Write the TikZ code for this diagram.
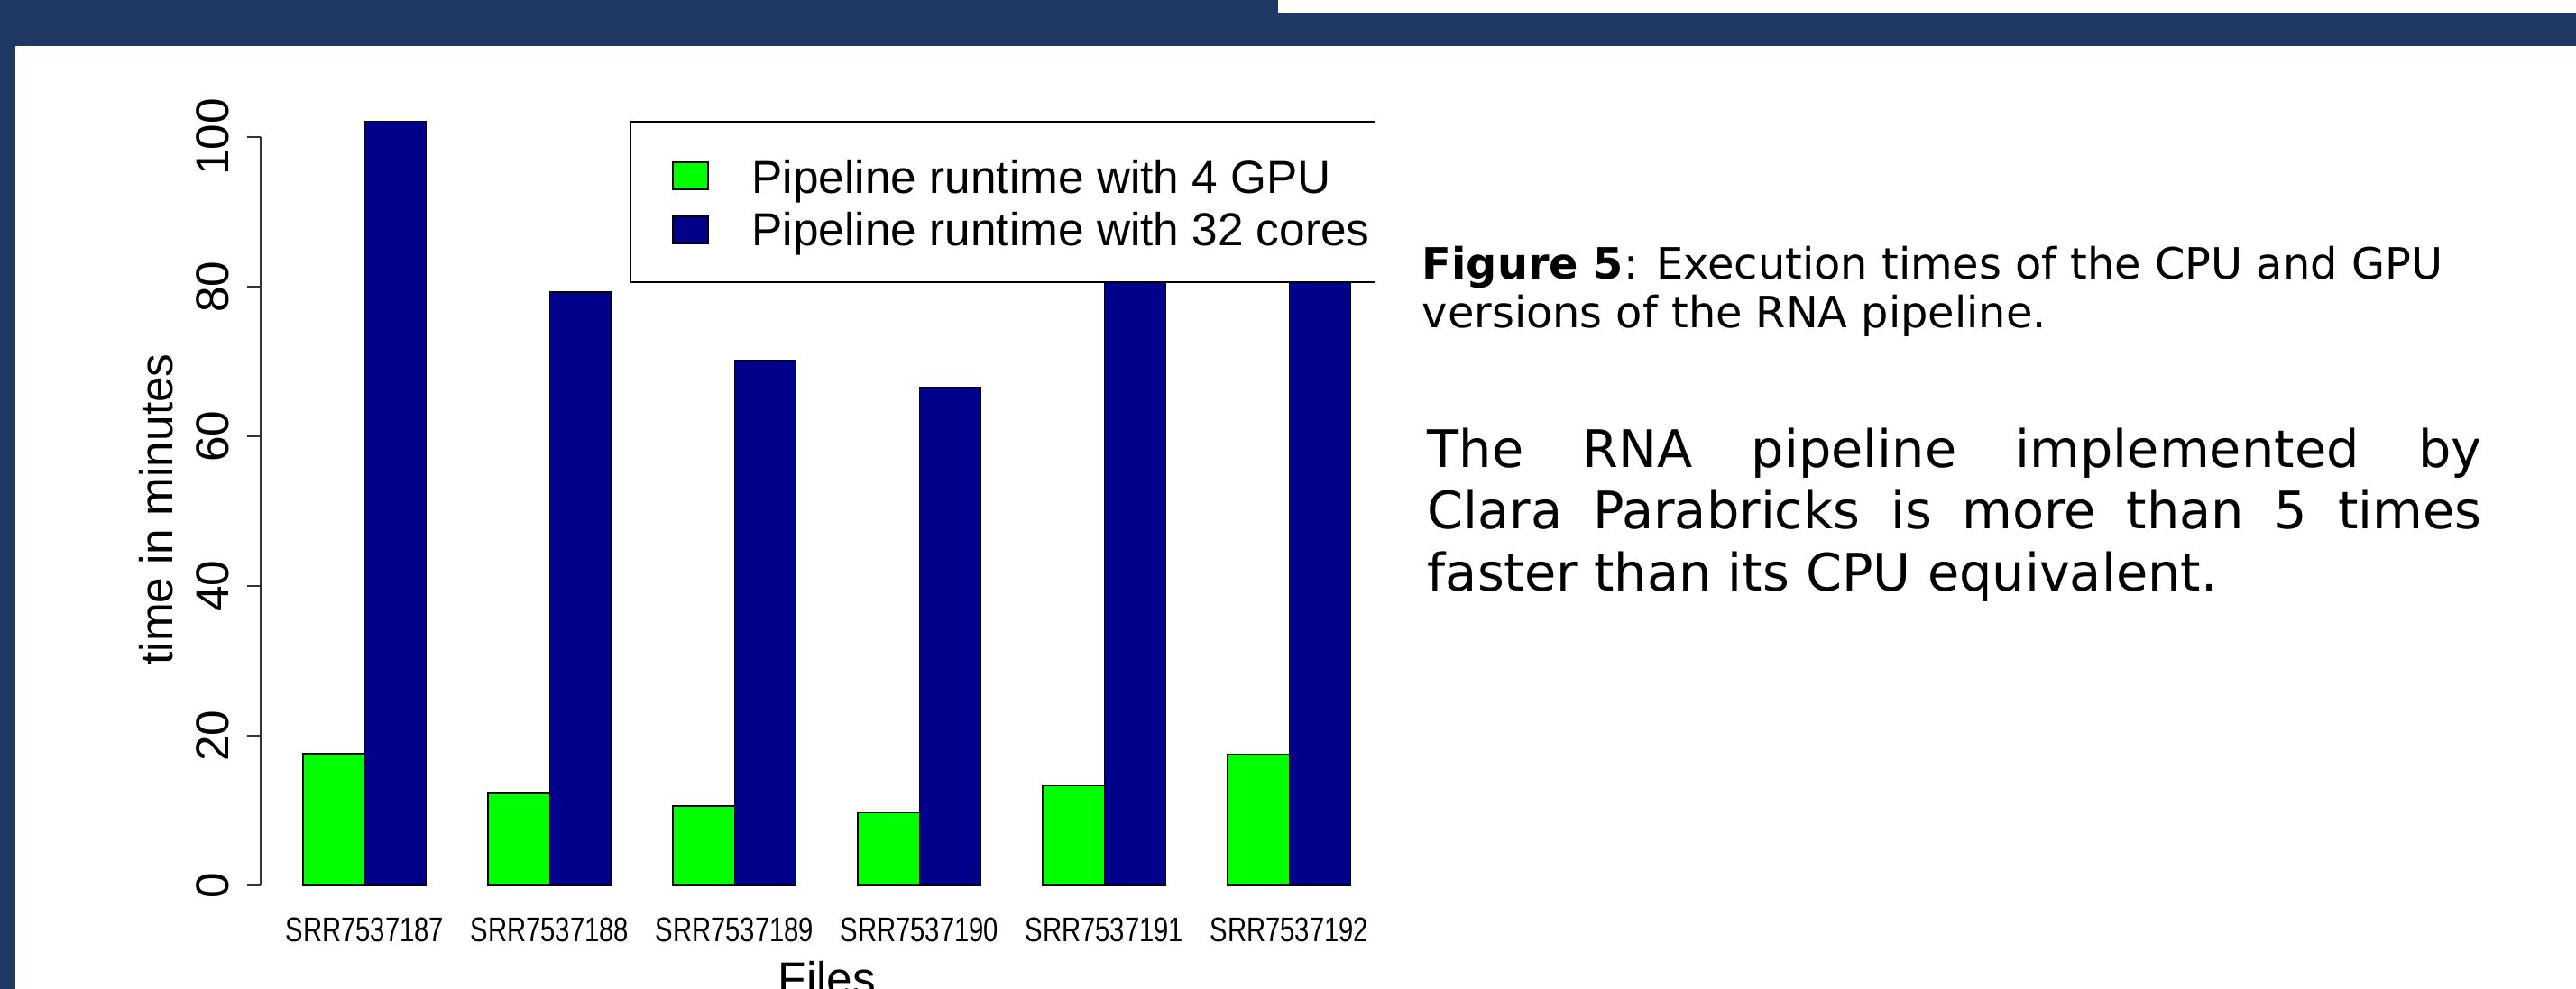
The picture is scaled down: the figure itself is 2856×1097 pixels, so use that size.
\documentclass[tikz,border=0pt]{standalone}
\usepackage{fontspec}
\setmainfont{DejaVu Sans}
\newfontfamily\plotfont{Liberation Sans}
\usepackage{xcolor}
\definecolor{framenavy}{RGB}{32,56,100}
\definecolor{gpugreen}{RGB}{0,255,0}
\definecolor{cpublue}{RGB}{0,0,139}

\begin{document}
\begin{tikzpicture}[x=0.01cm, y=-0.01cm, every node/.style={inner sep=0pt},
  bar/.style={draw=black, line width=0.4pt},
  axislbl/.style={font=\plotfont\fontsize{14.6}{16}\selectfont},
  ticklbl/.style={font=\plotfont\fontsize{10.8}{12}\selectfont}]
  \useasboundingbox (0,0) rectangle (2856,1097);
  % frame
  \fill[framenavy] (0,0) rectangle (2856,51);
  \fill[white] (1417,0) rectangle (2856,14);
  \fill[framenavy] (0,0) rectangle (17,1097);
  % y axis
  \draw[line width=0.7pt, black!80] (289,982) -- (289,152);
  \foreach \v in {0,20,...,100} {
    \draw[line width=0.7pt, black!80] (274,{982-8.3*\v}) -- (289,{982-8.3*\v});
    \node[axislbl, rotate=90, anchor=base] (tick\v) at (253,{982-8.3*\v}) {\v};
  }
  \node[axislbl, rotate=90, anchor=base] (ytitle) at (191,565) {time in minutes};
  % bars
  \foreach \i/\gpu/\cpu/\run in {0/17.6/102.1/187, 1/12.3/79.3/188, 2/10.6/70.2/189,
                                  3/9.7/66.6/190, 4/13.3/86/191, 5/17.5/90/192} {
    \draw[bar, fill=gpugreen] ({336+205*\i},982) rectangle ({404.3+205*\i},{982-8.3*\gpu});
    \draw[bar, fill=cpublue] ({404.3+205*\i},982) rectangle ({472.6+205*\i},{982-8.3*\cpu});
    \node[ticklbl, anchor=base] (file\run) at ({404.3+205*\i},1044) {\scalebox{0.77}[1]{SRR7537\run}};
  }
  \node[axislbl, anchor=base] (xtitle) at (917,1103) {Files};
  % legend
  \fill[white] (699,135) rectangle (1525,313);
  \draw[line width=0.5pt] (1525,135) -- (699,135) -- (699,313) -- (1525,313);
  \draw[bar, fill=gpugreen] (746,180) rectangle (785,210);
  \draw[bar, fill=cpublue] (746,240) rectangle (785,270);
  \node[axislbl, anchor=base west] (leggpu) at (833,215) {Pipeline runtime with 4 GPU};
  \node[axislbl, anchor=base west] (legcpu) at (833,273) {Pipeline runtime with 32 cores};
  % text
  \node[anchor=north west, align=left, font=\fontsize{13.6}{15.4}\selectfont] (caption) at (1576,272)
    {\textbf{Figure 5}: Execution times of the CPU and GPU\\versions of the RNA pipeline.};
  \node[anchor=north west, text width=11.68cm, align=justify, font=\fontsize{16.3}{19.5}\selectfont] (summary) at (1582,474)
    {The RNA pipeline implemented by\linebreak Clara Parabricks is more than 5 times\linebreak faster than its CPU equivalent.};
\end{tikzpicture}
\end{document}
